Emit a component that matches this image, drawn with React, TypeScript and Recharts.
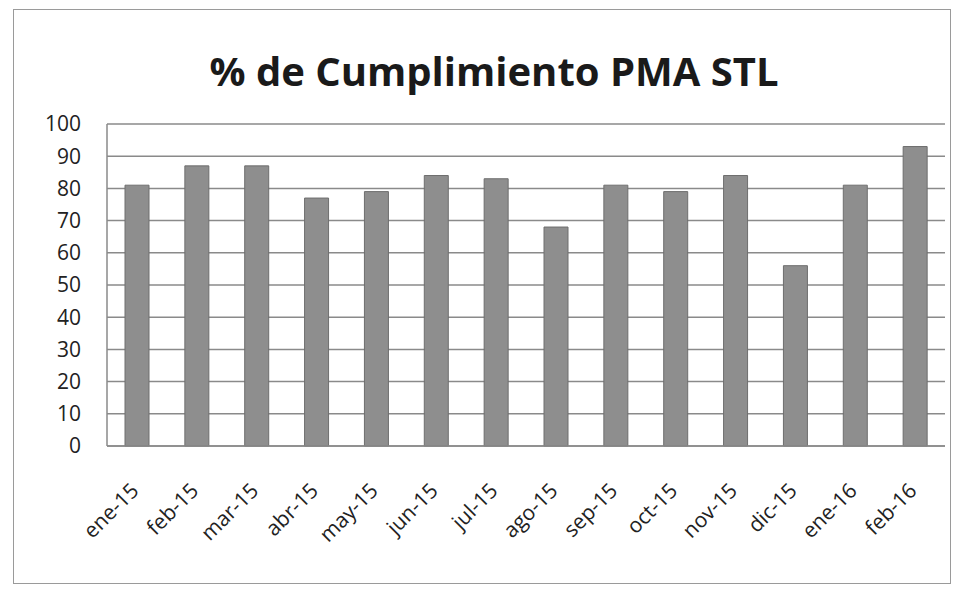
import { BarChart, Bar, XAxis, YAxis, CartesianGrid } from 'recharts';

const months = ['ene-15', 'feb-15', 'mar-15', 'abr-15', 'may-15', 'jun-15', 'jul-15', 'ago-15', 'sep-15', 'oct-15', 'nov-15', 'dic-15', 'ene-16', 'feb-16'];
const cumplimiento = [81, 87, 87, 77, 79, 84, 83, 68, 81, 79, 84, 56, 81, 93];
const yTicks = [0, 10, 20, 30, 40, 50, 60, 70, 80, 90, 100];

const data = months.map((mes, i) => ({ mes, valor: cumplimiento[i] }));

const FONT = '"Open Sans", "Noto Sans", sans-serif';

const MonthTick = (props: any) => {
    const { x, y, payload } = props;
    const ax = x + 3;
    const ay = y + 46;
    return (
        <text
            x={ax}
            y={ay}
            textAnchor="end"
            fill="#222"
            fontSize={21}
            fontFamily={FONT}
            transform={`rotate(-45, ${ax}, ${ay})`}
        >
            {payload.value}
        </text>
    );
};

export default function App() {
    return (
        <div style={{ position: 'absolute', left: 0, top: 0, width: 959, height: 594, background: '#fff' }}>
            <div
                style={{
                    position: 'absolute', left: 13, top: 9, width: 936, height: 573,
                    border: '1.5px solid #9a9a9a',
                }}
            />
            <div
                style={{
                    position: 'absolute', left: 0, top: 46, width: 988, textAlign: 'center',
                    fontFamily: FONT, fontWeight: 700, fontSize: 40, lineHeight: '50px', color: '#1a1a1a',
                }}
            >
                % de Cumplimiento PMA STL
            </div>
            <div style={{ position: 'absolute', left: 0, top: 0 }}>
                <BarChart
                    width={959}
                    height={594}
                    data={data}
                    margin={{ top: 124, right: 14, bottom: 138, left: 47 }}
                    barSize={24}
                >
                    <CartesianGrid vertical={false} stroke="#8a8a8a" strokeWidth={1.5} />
                    <XAxis
                        dataKey="mes"
                        interval={0}
                        tickLine={false}
                        tickSize={0}
                        tickMargin={0}
                        axisLine={{ stroke: '#8a8a8a', strokeWidth: 1.5 }}
                        tick={<MonthTick />}
                        height={10}
                    />
                    <YAxis
                        domain={[0, 100]}
                        ticks={yTicks}
                        interval={0}
                        width={60}
                        tickLine={false}
                        tickSize={0}
                        tickMargin={26}
                        axisLine={{ stroke: '#8a8a8a', strokeWidth: 1.5 }}
                        tick={{ fill: '#222', fontSize: 21, fontFamily: FONT }}
                    />
                    <Bar dataKey="valor" fill="#8e8e8e" stroke="#6e6e6e" strokeWidth={1} isAnimationActive={false} />
                </BarChart>
            </div>
        </div>
    );
}
